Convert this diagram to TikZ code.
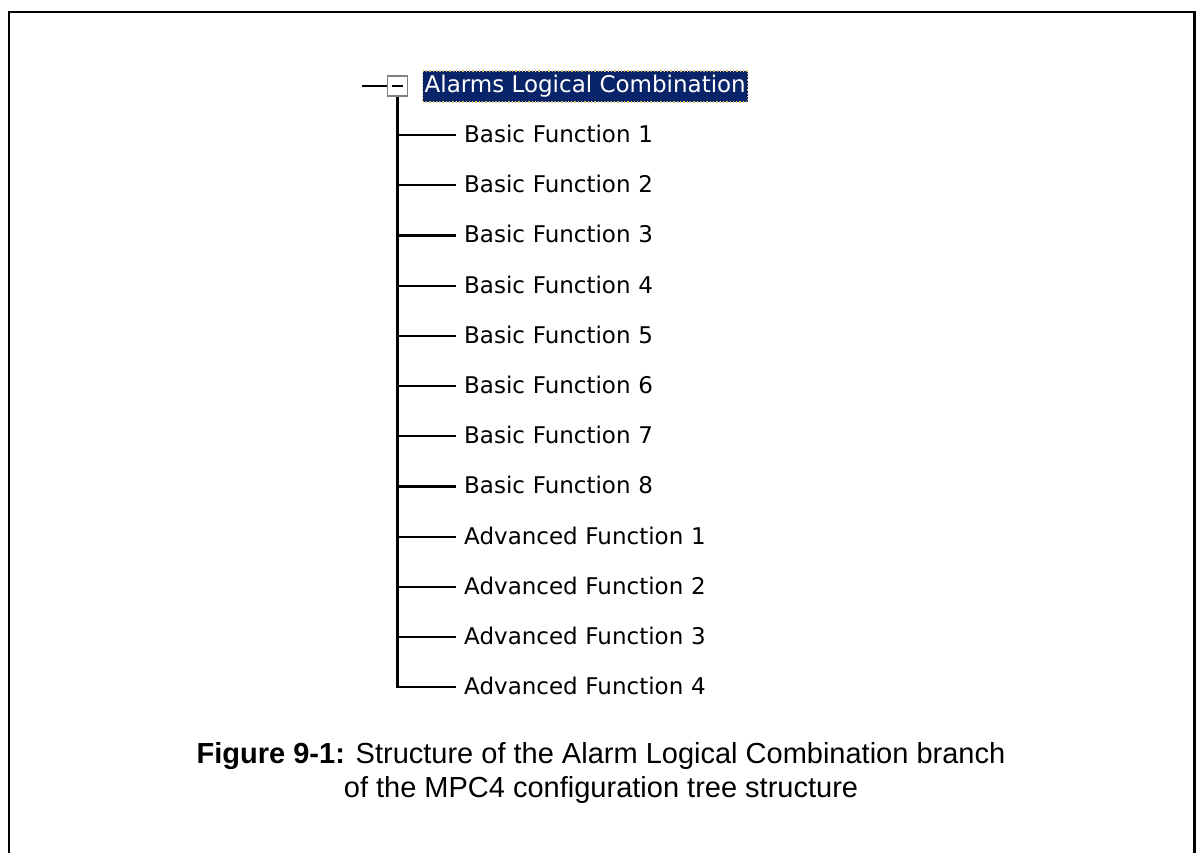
\documentclass[tikz,border=0pt]{standalone}
\usepackage{fontspec}
\setmainfont{Liberation Sans}
\newfontfamily\treefont{DejaVu Sans}
\usepackage{tikz}
\usetikzlibrary{positioning}
\definecolor{selnavy}{RGB}{10,36,106}
\definecolor{focusdot}{RGB}{214,190,110}
\definecolor{boxgray}{RGB}{128,128,128}
\tikzset{
    leaf/.style={rectangle, text width=270pt, align=left, inner xsep=8pt, inner ysep=4pt, text height=18.5pt, text depth=3.5pt, font=\treefont\fontsize{23}{27}\selectfont},
    selected/.style={rectangle, fill=selnavy, draw=focusdot, dotted, line width=1.3pt, text=white, inner xsep=2pt, minimum height=31pt, font=\treefont\fontsize{23}{27}\selectfont},
    expander/.style={rectangle, draw=boxgray, line width=1.5pt, minimum size=20pt, inner sep=0pt},
    branch/.style={line width=2.2pt, black},
    figcap/.style={align=center, font=\fontsize{29}{33.5}\selectfont}
}
\begin{document}
\begin{tikzpicture}[x=1pt, y=-1pt, node distance=19.8pt]
    \useasboundingbox (0,0) rectangle (1199,853);
    \node (expand) [expander] at (397.5,86) {};
    \node (root) [selected, anchor=west] at (422,86.5) {Alarms Logical Combination};
    \coordinate (stub) at (362,86);
    \node (bf1) [leaf, anchor=west] at (456,135) {Basic Function 1};
    \node (bf2) [leaf, below=of bf1] {Basic Function 2};
    \node (bf3) [leaf, below=of bf2] {Basic Function 3};
    \node (bf4) [leaf, below=of bf3] {Basic Function 4};
    \node (bf5) [leaf, below=of bf4] {Basic Function 5};
    \node (bf6) [leaf, below=of bf5] {Basic Function 6};
    \node (bf7) [leaf, below=of bf6] {Basic Function 7};
    \node (bf8) [leaf, below=of bf7] {Basic Function 8};
    \node (af1) [leaf, below=of bf8] {Advanced Function 1};
    \node (af2) [leaf, below=of af1] {Advanced Function 2};
    \node (af3) [leaf, below=of af2] {Advanced Function 3};
    \node (af4) [leaf, below=of af3] {Advanced Function 4};
    \node (cap) [figcap] at (601,773) {\textbf{Figure 9-1:} Structure of the Alarm Logical Combination branch\\of the MPC4 configuration tree structure};

    \draw [branch] (stub) -- (expand.west);
    \draw [branch] ([xshift=-5.5pt]expand.center) -- ([xshift=5.5pt]expand.center);
    \draw [branch] (expand.south) |- (af4.west);
    \draw [branch] (expand.south |- bf1.west) -- (bf1.west);
    \draw [branch] (expand.south |- bf2.west) -- (bf2.west);
    \draw [branch] (expand.south |- bf3.west) -- (bf3.west);
    \draw [branch] (expand.south |- bf4.west) -- (bf4.west);
    \draw [branch] (expand.south |- bf5.west) -- (bf5.west);
    \draw [branch] (expand.south |- bf6.west) -- (bf6.west);
    \draw [branch] (expand.south |- bf7.west) -- (bf7.west);
    \draw [branch] (expand.south |- bf8.west) -- (bf8.west);
    \draw [branch] (expand.south |- af1.west) -- (af1.west);
    \draw [branch] (expand.south |- af2.west) -- (af2.west);
    \draw [branch] (expand.south |- af3.west) -- (af3.west);
    \draw [line width=2.5pt] (9,853) -- (9,12) -- (1194.5,12) -- (1194.5,853);
\end{tikzpicture}
\end{document}
